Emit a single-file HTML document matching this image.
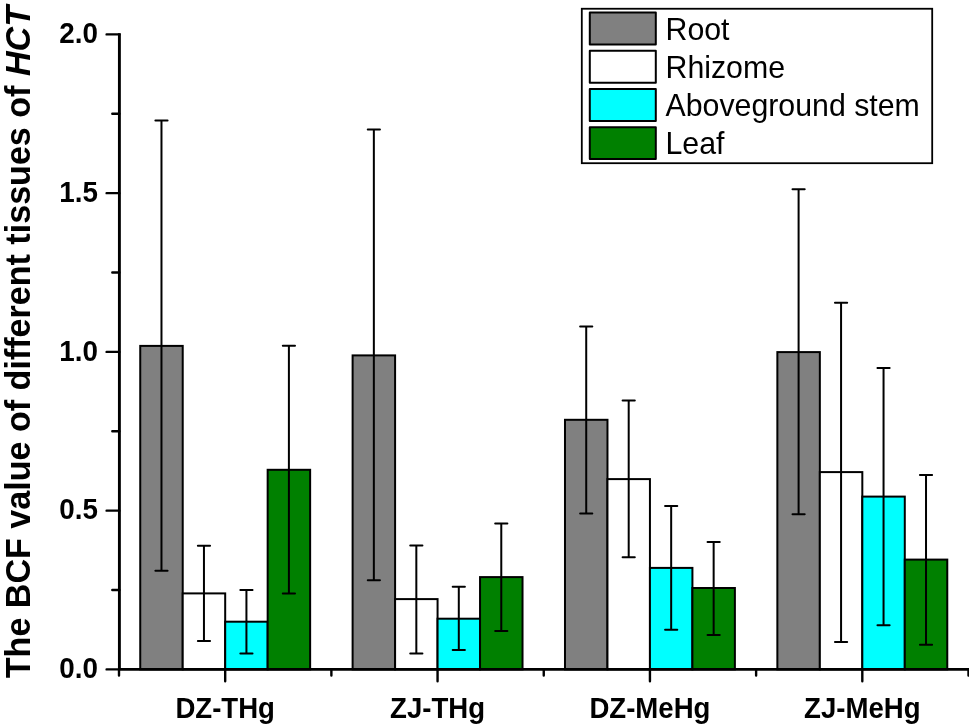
<!DOCTYPE html>
<html><head><meta charset="utf-8"><style>
html,body{margin:0;padding:0;background:#fff;}
body{width:969px;height:728px;overflow:hidden;}
svg{display:block;will-change:transform;}
text{font-family:"Liberation Sans",sans-serif;fill:#000;}
.b{font-weight:bold;}
</style></head><body>
<svg width="969" height="728" viewBox="0 0 969 728">
<rect x="140.24" y="345.9" width="42.48" height="323.50" fill="#808080" stroke="#000" stroke-width="2"/>
<rect x="182.71" y="593.4" width="42.48" height="76.00" fill="#ffffff" stroke="#000" stroke-width="2"/>
<rect x="225.19" y="621.6999999999999" width="42.48" height="47.70" fill="#00ffff" stroke="#000" stroke-width="2"/>
<rect x="267.66" y="469.79999999999995" width="42.48" height="199.60" fill="#008000" stroke="#000" stroke-width="2"/>
<rect x="352.61" y="355.4" width="42.48" height="314.00" fill="#808080" stroke="#000" stroke-width="2"/>
<rect x="395.09" y="599.1" width="42.48" height="70.30" fill="#ffffff" stroke="#000" stroke-width="2"/>
<rect x="437.56" y="618.7" width="42.48" height="50.70" fill="#00ffff" stroke="#000" stroke-width="2"/>
<rect x="480.04" y="577.1" width="42.48" height="92.30" fill="#008000" stroke="#000" stroke-width="2"/>
<rect x="564.99" y="419.8" width="42.48" height="249.60" fill="#808080" stroke="#000" stroke-width="2"/>
<rect x="607.46" y="479.1" width="42.48" height="190.30" fill="#ffffff" stroke="#000" stroke-width="2"/>
<rect x="649.94" y="567.9" width="42.48" height="101.50" fill="#00ffff" stroke="#000" stroke-width="2"/>
<rect x="692.41" y="588" width="42.48" height="81.40" fill="#008000" stroke="#000" stroke-width="2"/>
<rect x="777.36" y="352.1" width="42.48" height="317.30" fill="#808080" stroke="#000" stroke-width="2"/>
<rect x="819.84" y="472.1" width="42.48" height="197.30" fill="#ffffff" stroke="#000" stroke-width="2"/>
<rect x="862.31" y="496.6" width="42.48" height="172.80" fill="#00ffff" stroke="#000" stroke-width="2"/>
<rect x="904.79" y="559.6" width="42.48" height="109.80" fill="#008000" stroke="#000" stroke-width="2"/>
<path d="M161.48 120.4V570.8M155.38 120.4h12.2M155.38 570.8h12.2" stroke="#000" stroke-width="2" stroke-linecap="round" fill="none"/>
<path d="M203.95 545.8V641.0M197.85 545.8h12.2M197.85 641.0h12.2" stroke="#000" stroke-width="2" stroke-linecap="round" fill="none"/>
<path d="M246.43 590.0V653.4M240.33 590.0h12.2M240.33 653.4h12.2" stroke="#000" stroke-width="2" stroke-linecap="round" fill="none"/>
<path d="M288.90 345.79999999999995V593.4M282.80 345.79999999999995h12.2M282.80 593.4h12.2" stroke="#000" stroke-width="2" stroke-linecap="round" fill="none"/>
<path d="M373.85 129.6V580.3M367.75 129.6h12.2M367.75 580.3h12.2" stroke="#000" stroke-width="2" stroke-linecap="round" fill="none"/>
<path d="M416.33 545.5V653.5M410.23 545.5h12.2M410.23 653.5h12.2" stroke="#000" stroke-width="2" stroke-linecap="round" fill="none"/>
<path d="M458.80 586.8V650M452.70 586.8h12.2M452.70 650h12.2" stroke="#000" stroke-width="2" stroke-linecap="round" fill="none"/>
<path d="M501.28 523.5V631M495.18 523.5h12.2M495.18 631h12.2" stroke="#000" stroke-width="2" stroke-linecap="round" fill="none"/>
<path d="M586.22 326.4V513.5M580.12 326.4h12.2M580.12 513.5h12.2" stroke="#000" stroke-width="2" stroke-linecap="round" fill="none"/>
<path d="M628.70 400.5V557.2M622.60 400.5h12.2M622.60 557.2h12.2" stroke="#000" stroke-width="2" stroke-linecap="round" fill="none"/>
<path d="M671.17 506.1V629.7M665.07 506.1h12.2M665.07 629.7h12.2" stroke="#000" stroke-width="2" stroke-linecap="round" fill="none"/>
<path d="M713.65 542.1V635M707.55 542.1h12.2M707.55 635h12.2" stroke="#000" stroke-width="2" stroke-linecap="round" fill="none"/>
<path d="M798.60 189.3V514.2M792.50 189.3h12.2M792.50 514.2h12.2" stroke="#000" stroke-width="2" stroke-linecap="round" fill="none"/>
<path d="M841.07 302.7V641.9M834.97 302.7h12.2M834.97 641.9h12.2" stroke="#000" stroke-width="2" stroke-linecap="round" fill="none"/>
<path d="M883.55 367.9V625.3M877.45 367.9h12.2M877.45 625.3h12.2" stroke="#000" stroke-width="2" stroke-linecap="round" fill="none"/>
<path d="M926.02 475.1V644.8M919.92 475.1h12.2M919.92 644.8h12.2" stroke="#000" stroke-width="2" stroke-linecap="round" fill="none"/>
<path d="M106.6 669.40H119.4M106.6 510.65H119.4M106.6 351.90H119.4M106.6 193.15H119.4M106.6 34.40H119.4M112.3 590.02H119.4M112.3 431.27H119.4M112.3 272.52H119.4M112.3 113.77H119.4M225.19 669.4V681.3M437.56 669.4V681.3M649.94 669.4V681.3M862.31 669.4V681.3M119.00 669.4V675.5M331.38 669.4V675.5M543.75 669.4V675.5M756.12 669.4V675.5M968.50 669.4V675.5" stroke="#000" stroke-width="2.4" stroke-linecap="round" fill="none"/>
<path d="M119.4 33.2V669.4H970.5" stroke="#000" stroke-width="2.9" fill="none"/>
<text transform="translate(97.9 678.00) scale(1 1.04)" text-anchor="end" class="b" font-size="27.8">0.0</text>
<text transform="translate(97.9 519.25) scale(1 1.04)" text-anchor="end" class="b" font-size="27.8">0.5</text>
<text transform="translate(97.9 360.50) scale(1 1.04)" text-anchor="end" class="b" font-size="27.8">1.0</text>
<text transform="translate(97.9 201.75) scale(1 1.04)" text-anchor="end" class="b" font-size="27.8">1.5</text>
<text transform="translate(97.9 43.00) scale(1 1.04)" text-anchor="end" class="b" font-size="27.8">2.0</text>
<text transform="translate(225.19 717.8) scale(1 1.04)" text-anchor="middle" class="b" font-size="27.6">DZ-THg</text>
<text transform="translate(437.56 717.8) scale(1 1.04)" text-anchor="middle" class="b" font-size="27.6">ZJ-THg</text>
<text transform="translate(649.94 717.8) scale(1 1.04)" text-anchor="middle" class="b" font-size="27.6">DZ-MeHg</text>
<text transform="translate(862.31 717.8) scale(1 1.04)" text-anchor="middle" class="b" font-size="27.6">ZJ-MeHg</text>
<text transform="translate(29.6 678.2) rotate(-90) scale(1 1.04)" class="b" font-size="34.1">The BCF value of different tissues of <tspan font-style="italic">HCT</tspan></text>
<rect x="581.8" y="8.75" width="350.4" height="154.45" fill="#fff" stroke="#000" stroke-width="1.8"/>
<rect x="589.8" y="12.60" width="66" height="31.9" fill="#808080" stroke="#000" stroke-width="2" stroke-linejoin="round"/>
<text transform="translate(665.5 39.60) scale(1 1.04)" font-size="30.3">Root</text>
<rect x="589.8" y="50.80" width="66" height="31.9" fill="#ffffff" stroke="#000" stroke-width="2" stroke-linejoin="round"/>
<text transform="translate(665.5 77.75) scale(1 1.04)" font-size="30.3">Rhizome</text>
<rect x="589.8" y="89.00" width="66" height="31.9" fill="#00ffff" stroke="#000" stroke-width="2" stroke-linejoin="round"/>
<text transform="translate(665.5 115.90) scale(1 1.04)" font-size="30.3">Aboveground stem</text>
<rect x="589.8" y="127.20" width="66" height="31.9" fill="#008000" stroke="#000" stroke-width="2" stroke-linejoin="round"/>
<text transform="translate(665.5 154.05) scale(1 1.04)" font-size="30.3">Leaf</text>
</svg>
</body></html>
